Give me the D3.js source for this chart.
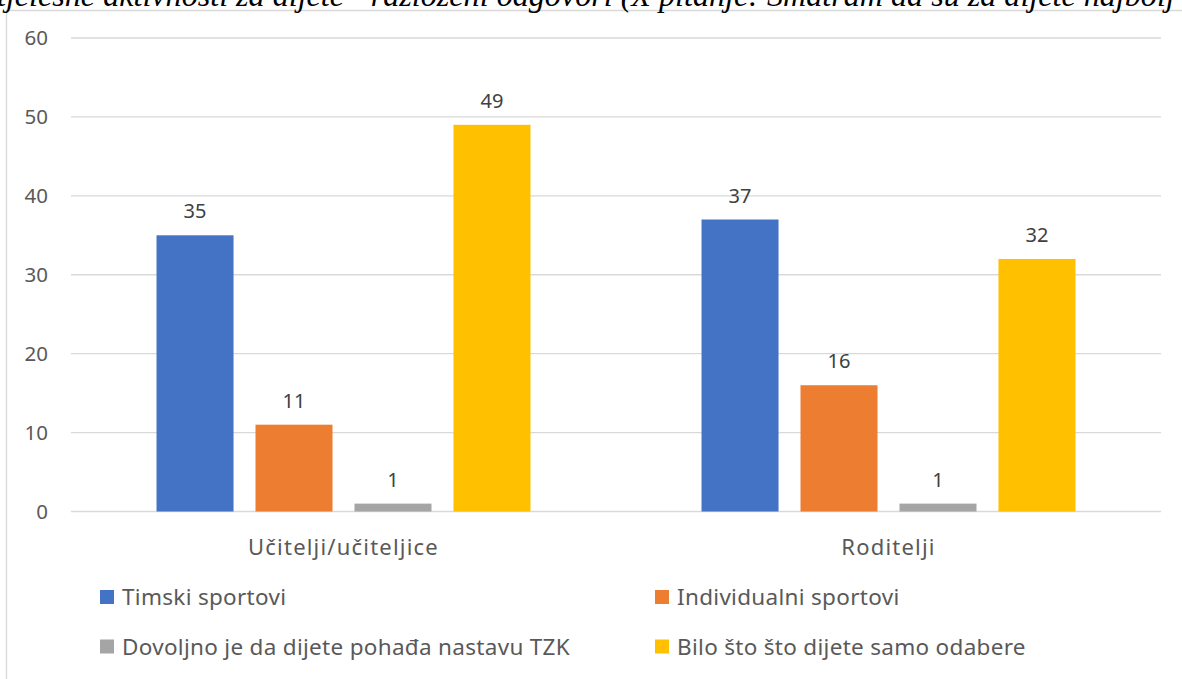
<!DOCTYPE html>
<html><head><meta charset="utf-8">
<script src="https://cdn.jsdelivr.net/npm/d3@7"></script>
<style>
body{margin:0;background:#fff;overflow:hidden}
svg{display:block}
</style></head>
<body>
<svg id="c" width="1182" height="679"></svg>
<script>
const titleText = "tjelesne aktivnosti za dijete - razloženi odgovori (X pitanje: Smatram da su za dijete najbolj";
const categories = ["Učitelji/učiteljice", "Roditelji"];
const seriesNames = ["Timski sportovi", "Individualni sportovi", "Dovoljno je da dijete pohađa nastavu TZK", "Bilo što što dijete samo odabere"];
const seriesColors = ["#4472C4", "#ED7D31", "#A5A5A5", "#FFC000"];
const valuesTimski = [35, 37];
const valuesIndividualni = [11, 16];
const valuesDovoljno = [1, 1];
const valuesBilo = [49, 32];
const yTicks = [0, 10, 20, 30, 40, 50, 60];

const seriesValues = [valuesTimski, valuesIndividualni, valuesDovoljno, valuesBilo];
const svg = d3.select("#c");
const font = "'Noto Sans', 'Open Sans', sans-serif";

// frame
svg.append("path").attr("d", "M6.5,679 L6.5,10.5 L1182,10.5")
  .attr("fill", "none").attr("stroke", "#d9d9d9").attr("stroke-width", 1.3);

// title (cut off at the top)
const t = svg.append("text").attr("x", -3).attr("y", 6)
  .attr("font-family", "'Liberation Serif', 'Times New Roman', serif")
  .attr("font-style", "italic").attr("font-size", 26).attr("fill", "#000")
  .text(titleText);
const tw = t.node().getComputedTextLength();
t.attr("font-size", 26 * 1178 / tw);

const x0 = d3.scaleBand().domain(categories).range([71, 1161]);
const x1 = d3.scaleBand().domain(d3.range(seriesNames.length)).range([0, x0.bandwidth()])
  .paddingInner(0.222).paddingOuter(0.864);
const y = d3.scaleLinear().domain([0, 60]).range([511.5, 38]);

// gridlines
svg.append("g").selectAll("line").data(yTicks).join("line")
  .attr("x1", 71).attr("x2", 1161)
  .attr("y1", d => y(d)).attr("y2", d => y(d))
  .attr("stroke", "#d9d9d9").attr("stroke-width", 1.3);

// y axis labels
const yAxis = svg.append("g").attr("transform", "translate(48,0)")
  .call(d3.axisLeft(y).tickValues(yTicks).tickSize(0).tickPadding(0));
yAxis.select(".domain").remove();
yAxis.selectAll("text").attr("font-family", font).attr("font-size", 20.5).attr("fill", "#595959");

// bars
const groups = svg.append("g").selectAll("g").data(categories).join("g")
  .attr("transform", c => `translate(${x0(c)},0)`);
groups.each(function(c, ci) {
  const g = d3.select(this);
  const d = seriesValues.map((vals, si) => ({si, v: vals[ci]}));
  g.selectAll("rect").data(d).join("rect")
    .attr("x", e => x1(e.si)).attr("width", x1.bandwidth())
    .attr("y", e => y(e.v)).attr("height", e => y(0) - y(e.v))
    .attr("fill", e => seriesColors[e.si]);
  g.selectAll("text").data(d).join("text")
    .attr("x", e => x1(e.si) + x1.bandwidth() / 2)
    .attr("y", e => y(e.v) - 17)
    .attr("text-anchor", "middle")
    .attr("font-family", font).attr("font-size", 20).attr("fill", "#404040")
    .text(e => e.v);
});

// x axis labels
const xAxis = svg.append("g").attr("transform", "translate(0,548)")
  .call(d3.axisBottom(x0).tickSize(0).tickPadding(0));
xAxis.select(".domain").remove();
xAxis.selectAll("text").attr("font-family", font).attr("font-size", 22)
  .attr("letter-spacing", 1.2).attr("fill", "#595959")
  .attr("dy", "0.32em");

// legend
const legPos = [[100, 597.5], [655, 597.5], [100, 647], [655, 647]];
const leg = svg.append("g").selectAll("g").data(seriesNames).join("g")
  .attr("transform", (d, i) => `translate(${legPos[i][0]},${legPos[i][1]})`);
leg.append("rect").attr("x", 0).attr("y", -7.5).attr("width", 14).attr("height", 14)
  .attr("fill", (d, i) => seriesColors[i]);
leg.append("text").attr("x", 22).attr("y", 0).attr("dy", "0.35em")
  .attr("font-family", font).attr("font-size", 22.5).attr("letter-spacing", 0.3).attr("fill", "#595959")
  .text(d => d);
</script>
</body></html>
